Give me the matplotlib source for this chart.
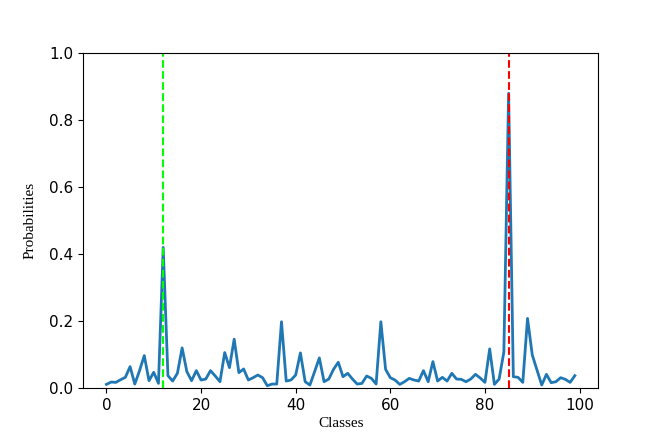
import numpy as np
import matplotlib
matplotlib.use('Agg')
import matplotlib.pyplot as plt

# class probabilities (classes 0..99)
probs = [
    0.011, 0.018, 0.017, 0.025, 0.032, 0.064, 0.012, 0.052, 0.097, 0.022,
    0.047, 0.014, 0.420, 0.037, 0.021, 0.044, 0.120, 0.049, 0.022, 0.052,
    0.024, 0.027, 0.052, 0.036, 0.019, 0.106, 0.061, 0.146, 0.046, 0.057,
    0.024, 0.031, 0.039, 0.031, 0.007, 0.012, 0.012, 0.198, 0.021, 0.024,
    0.039, 0.105, 0.019, 0.009, 0.049, 0.090, 0.019, 0.027, 0.056, 0.077,
    0.034, 0.044, 0.027, 0.012, 0.014, 0.036, 0.029, 0.012, 0.198, 0.056,
    0.031, 0.024, 0.011, 0.019, 0.029, 0.024, 0.021, 0.052, 0.019, 0.079,
    0.021, 0.032, 0.021, 0.044, 0.027, 0.026, 0.019, 0.027, 0.041, 0.030,
    0.017, 0.117, 0.011, 0.027, 0.108, 0.880, 0.034, 0.032, 0.017, 0.208,
    0.099, 0.054, 0.009, 0.041, 0.016, 0.019, 0.031, 0.026, 0.017, 0.037,
]
classes = np.arange(len(probs))
true_class = 12
pred_class = 85

fig = plt.figure(figsize=(6.64, 4.43), dpi=100)
ax = fig.add_axes([0.125, 0.124, 0.776, 0.756])

ax.plot(classes, probs, color='#1f77b4', linewidth=2)
ax.axvline(true_class, color='#00ff00', linestyle='--', linewidth=1.5)
ax.axvline(pred_class, color='red', linestyle='--', linewidth=1.5)

ax.set_ylim(0, 1)
ax.tick_params(labelsize=11)
ax.set_xlabel('Classes', family='Liberation Serif', fontsize=11, labelpad=3)
ax.set_ylabel('Probabilities', family='Liberation Serif', fontsize=11, labelpad=9)

fig.savefig('out.png', dpi=100)
